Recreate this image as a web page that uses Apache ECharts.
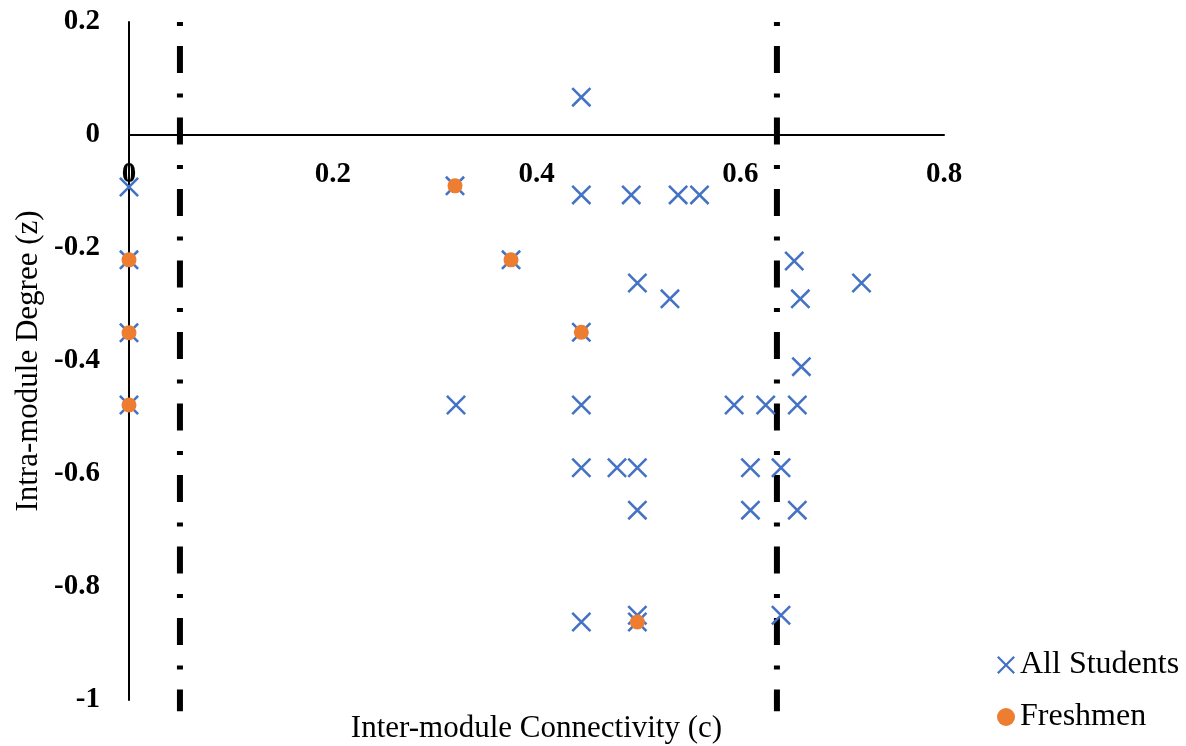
<!DOCTYPE html>
<html>
<head>
<meta charset="utf-8">
<script src="https://cdn.jsdelivr.net/npm/echarts@6/dist/echarts.min.js"></script>
<style>
html,body{margin:0;padding:0;background:#fff;}
#chart{width:1186px;height:746px;}
</style>
</head>
<body>
<div id="chart"></div>
<script>
// ---- data ----
const allStudentsC = [0, 0, 0, 0, 0.32, 0.375, 0.444, 0.444, 0.444, 0.493, 0.539, 0.56, 0.499, 0.531, 0.653, 0.659, 0.719, 0.66, 0.321, 0.444, 0.594, 0.625, 0.656, 0.444, 0.479, 0.499, 0.61, 0.64, 0.499, 0.61, 0.656, 0.444, 0.499, 0.499, 0.64];
const allStudentsZ = [-0.092, -0.221, -0.35, -0.478, -0.09, -0.221, -0.349, 0.067, -0.106, -0.106, -0.106, -0.106, -0.262, -0.29, -0.223, -0.29, -0.262, -0.41, -0.478, -0.478, -0.478, -0.478, -0.478, -0.589, -0.589, -0.589, -0.589, -0.589, -0.664, -0.664, -0.664, -0.862, -0.85, -0.862, -0.85];
const freshmenC = [0, 0, 0, 0.32, 0.375, 0.444, 0.499];
const freshmenZ = [-0.221, -0.35, -0.478, -0.09, -0.221, -0.349, -0.862];
const boundaryC = [0.05, 0.636];
const boundaryZ = [0.2, -1.02];
const seriesNames = ['All Students', 'Freshmen'];
const xTitle = 'Inter-module Connectivity (c)';
const yTitle = 'Intra-module Degree (z)';

const zip = (a, b) => a.map((v, i) => [v, b[i]]);
const FONT = '"Liberation Serif", "Times New Roman", serif';
const crossPath = 'path://M0,0.9L0.9,0L10,9.1L9.1,10ZM9.1,0L10,0.9L0.9,10L0,9.1Z';

const GRID = { left: 129, right: 242, top: 22, bottom: 46 };
const plotH = 746 - GRID.top - GRID.bottom;
const zMin = -1, zMax = 0.2;
// move the whole x axis (line, labels, title) up to z = 0
const xAxisOffset = -plotH * (0 - zMin) / (zMax - zMin);

const boundarySeries = boundaryC.map(c => ({
  type: 'line',
  data: boundaryZ.map(z => [c, z]),
  symbol: 'none',
  clip: false,
  silent: true,
  z: 1,
  lineStyle: { color: '#000', width: 6, type: [4, 20, 27, 20.5], cap: 'butt' }
}));

const chart = echarts.init(document.getElementById('chart'));
chart.setOption({
  backgroundColor: '#fff',
  animation: false,
  grid: Object.assign({ containLabel: false, outerBoundsMode: 'none' }, GRID),
  legend: {
    orient: 'vertical',
    left: 992,
    top: 644,
    itemWidth: 18,
    itemHeight: 18,
    itemGap: 20,
    data: seriesNames,
    textStyle: { fontFamily: FONT, fontSize: 32, color: '#000', lineHeight: 32 }
  },
  xAxis: {
    type: 'value',
    min: 0, max: 0.8, interval: 0.2,
    offset: xAxisOffset,
    name: xTitle,
    nameLocation: 'middle',
    nameGap: 578,
    nameMoveOverlap: false,
    nameTextStyle: { fontFamily: FONT, fontSize: 31, color: '#000' },
    axisLine: { onZero: false, lineStyle: { color: '#000', width: 2 } },
    axisTick: { show: false },
    splitLine: { show: false },
    axisLabel: { fontFamily: FONT, fontSize: 29, fontWeight: 'bold', color: '#000', margin: 25, hideOverlap: false }
  },
  yAxis: {
    type: 'value',
    min: zMin, max: zMax, interval: 0.2,
    name: yTitle,
    nameLocation: 'middle',
    nameGap: 85,
    nameRotate: 90,
    nameMoveOverlap: false,
    nameTextStyle: { fontFamily: FONT, fontSize: 31, color: '#000' },
    axisLine: { onZero: false, lineStyle: { color: '#000', width: 2 } },
    axisTick: { show: false },
    splitLine: { show: false },
    axisLabel: { fontFamily: FONT, fontSize: 29, fontWeight: 'bold', color: '#000', margin: 29, padding: [5, 0, 0, 0], showMaxLabel: true, showMinLabel: true, hideOverlap: false }
  },
  series: [
    {
      name: seriesNames[0],
      type: 'scatter',
      data: zip(allStudentsC, allStudentsZ),
      symbol: crossPath,
      symbolSize: 20,
      z: 3,
      itemStyle: { color: '#4472C4', opacity: 1 }
    },
    {
      name: seriesNames[1],
      type: 'scatter',
      data: zip(freshmenC, freshmenZ),
      symbol: 'circle',
      symbolSize: 15,
      z: 4,
      itemStyle: { color: '#ED7D31', opacity: 1 }
    }
  ].concat(boundarySeries)
});
</script>
</body>
</html>
